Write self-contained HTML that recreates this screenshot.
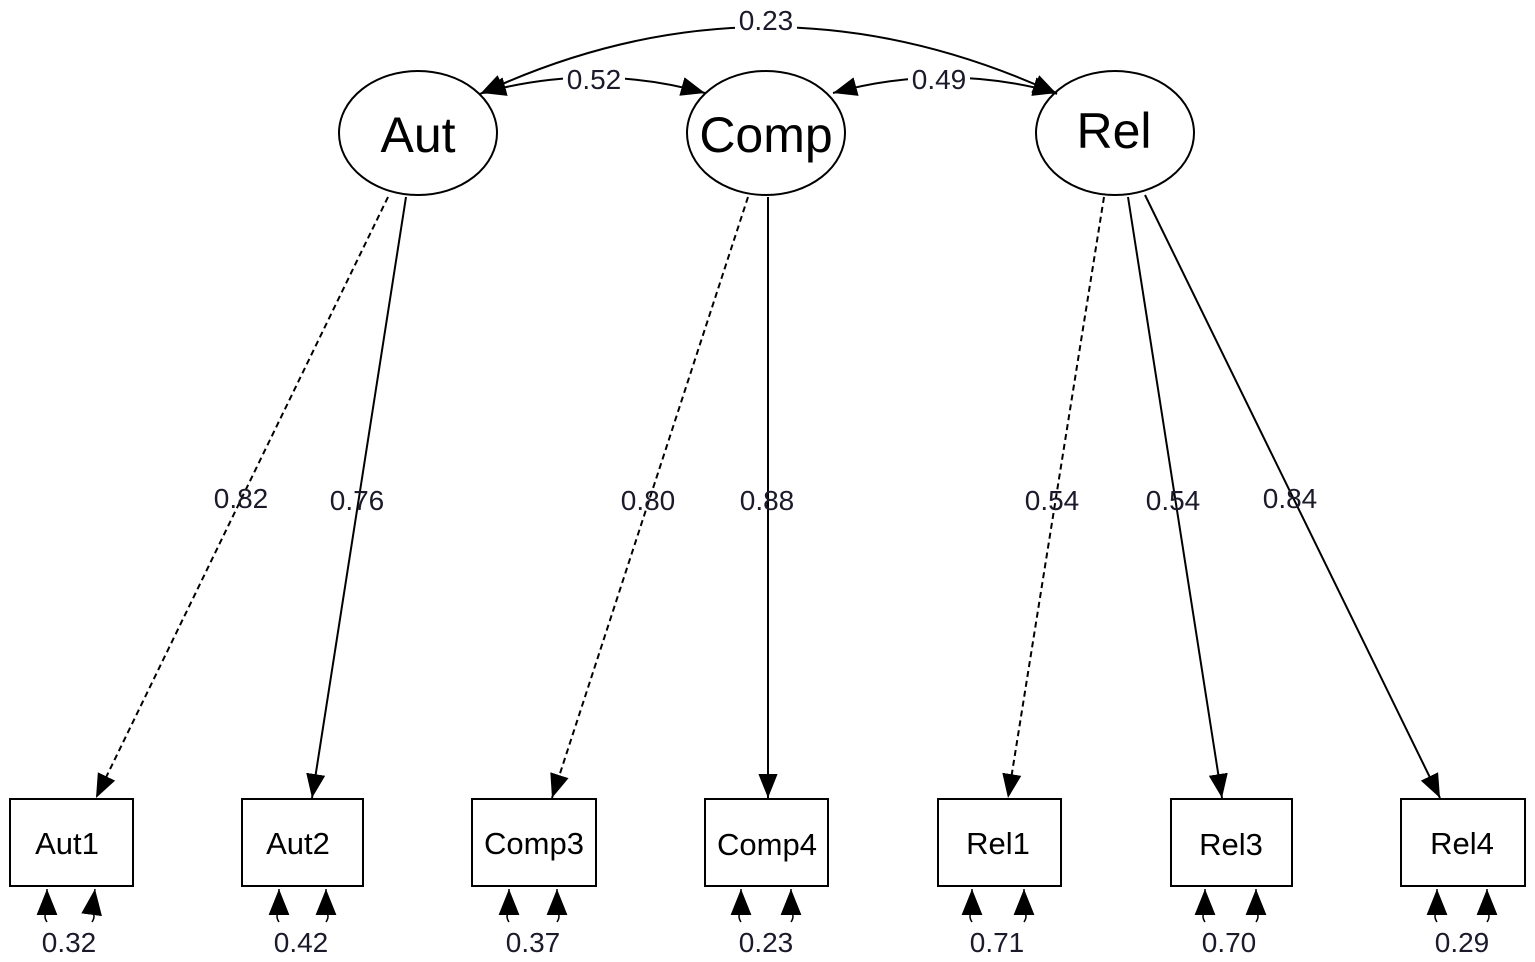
<!DOCTYPE html>
<html><head><meta charset="utf-8"><style>
html,body{margin:0;padding:0;background:#fff;}
svg{display:block;}
text{font-family:"Liberation Sans",sans-serif;fill:#000;}
.lb{font-size:28px;text-anchor:middle;fill:#1a1a2a;}
.bx{font-size:31px;text-anchor:middle;}
.nd{font-size:50px;text-anchor:middle;}
</style></head><body>
<svg width="1535" height="962" viewBox="0 0 1535 962" xmlns="http://www.w3.org/2000/svg">
<defs>
<marker id="s" viewBox="0 0 10 10" refX="10" refY="5" markerWidth="24" markerHeight="24" markerUnits="userSpaceOnUse" orient="auto-start-reverse">
<path d="M0,1 L10,5 L0,9 z" fill="#000"/>
</marker>
<marker id="r" viewBox="0 0 10 10" refX="10" refY="5" markerWidth="26" markerHeight="26" markerUnits="userSpaceOnUse" orient="auto-start-reverse">
<path d="M0,1 L10,5 L0,9 z" fill="#000"/>
</marker>
</defs>
<g fill="none" stroke="#000" stroke-width="2">
<ellipse cx="418" cy="133" rx="79" ry="62" fill="#fff"/>
<ellipse cx="766" cy="133" rx="79" ry="62" fill="#fff"/>
<ellipse cx="1115" cy="133" rx="79" ry="62" fill="#fff"/>
<rect x="10" y="799" width="123" height="87"/>
<rect x="242" y="799" width="121" height="87"/>
<rect x="472" y="799" width="124" height="87"/>
<rect x="705" y="799" width="123" height="87"/>
<rect x="938" y="799" width="123" height="87"/>
<rect x="1171" y="799" width="121" height="87"/>
<rect x="1401" y="799" width="124" height="87"/>
<line x1="388" y1="197" x2="96" y2="798" stroke-dasharray="6,4" marker-end="url(#s)"/>
<line x1="406" y1="197" x2="312" y2="798" marker-end="url(#s)"/>
<line x1="748" y1="197" x2="552" y2="798" stroke-dasharray="6,4" marker-end="url(#s)"/>
<line x1="768" y1="197" x2="768" y2="798" marker-end="url(#s)"/>
<line x1="1104" y1="197" x2="1008" y2="798" stroke-dasharray="6,4" marker-end="url(#s)"/>
<line x1="1128" y1="197" x2="1222" y2="798" marker-end="url(#s)"/>
<line x1="1145" y1="195" x2="1440" y2="798" marker-end="url(#s)"/>
<path d="M480,94 Q766,-40 1057,94" marker-start="url(#s)" marker-end="url(#s)"/>
<path d="M482,93 Q594,62 705,93" marker-start="url(#s)" marker-end="url(#s)"/>
<path d="M833,93 Q945,62 1057,93" marker-start="url(#s)" marker-end="url(#s)"/>
<g stroke-width="1.5">
<path d="M47,922 q-4,-6 0,-10 L47,889" marker-end="url(#r)"/>
<path d="M92,922 q4,-6 0,-10 L95,889" marker-end="url(#r)"/>
<path d="M279,922 q-4,-6 0,-10 L279,889" marker-end="url(#r)"/>
<path d="M326,922 q4,-6 0,-10 L326,889" marker-end="url(#r)"/>
<path d="M509,922 q-4,-6 0,-10 L509,889" marker-end="url(#r)"/>
<path d="M557,922 q4,-6 0,-10 L557,889" marker-end="url(#r)"/>
<path d="M741,922 q-4,-6 0,-10 L741,889" marker-end="url(#r)"/>
<path d="M791,922 q4,-6 0,-10 L791,889" marker-end="url(#r)"/>
<path d="M972,922 q-4,-6 0,-10 L972,889" marker-end="url(#r)"/>
<path d="M1024,922 q4,-6 0,-10 L1024,889" marker-end="url(#r)"/>
<path d="M1205,922 q-4,-6 0,-10 L1205,889" marker-end="url(#r)"/>
<path d="M1256,922 q4,-6 0,-10 L1256,889" marker-end="url(#r)"/>
<path d="M1437,922 q-4,-6 0,-10 L1437,889" marker-end="url(#r)"/>
<path d="M1487,922 q4,-6 0,-10 L1487,889" marker-end="url(#r)"/>
</g>
</g>
<rect x="735" y="6" width="62" height="28" fill="#fff"/>
<rect x="563" y="64" width="62" height="28" fill="#fff"/>
<rect x="908" y="64" width="62" height="28" fill="#fff"/>
<text class="lb" x="766" y="30">0.23</text>
<text class="lb" x="594" y="89">0.52</text>
<text class="lb" x="939" y="89">0.49</text>
<text class="nd" x="418" y="152">Aut</text>
<text class="nd" x="766" y="152">Comp</text>
<text class="nd" x="1114" y="148">Rel</text>
<text class="lb" x="241" y="508">0.82</text>
<text class="lb" x="357" y="510">0.76</text>
<text class="lb" x="648" y="510">0.80</text>
<text class="lb" x="767" y="510">0.88</text>
<text class="lb" x="1052" y="510">0.54</text>
<text class="lb" x="1173" y="510">0.54</text>
<text class="lb" x="1290" y="508">0.84</text>
<text class="bx" x="67" y="854">Aut1</text>
<text class="bx" x="298" y="854">Aut2</text>
<text class="bx" x="534" y="854">Comp3</text>
<text class="bx" x="767" y="855">Comp4</text>
<text class="bx" x="998" y="854">Rel1</text>
<text class="bx" x="1231" y="855">Rel3</text>
<text class="bx" x="1462" y="854">Rel4</text>
<text class="lb" x="69" y="952">0.32</text>
<text class="lb" x="301" y="952">0.42</text>
<text class="lb" x="533" y="952">0.37</text>
<text class="lb" x="766" y="952">0.23</text>
<text class="lb" x="997" y="952">0.71</text>
<text class="lb" x="1229" y="952">0.70</text>
<text class="lb" x="1462" y="952">0.29</text>
</svg>
</body></html>
